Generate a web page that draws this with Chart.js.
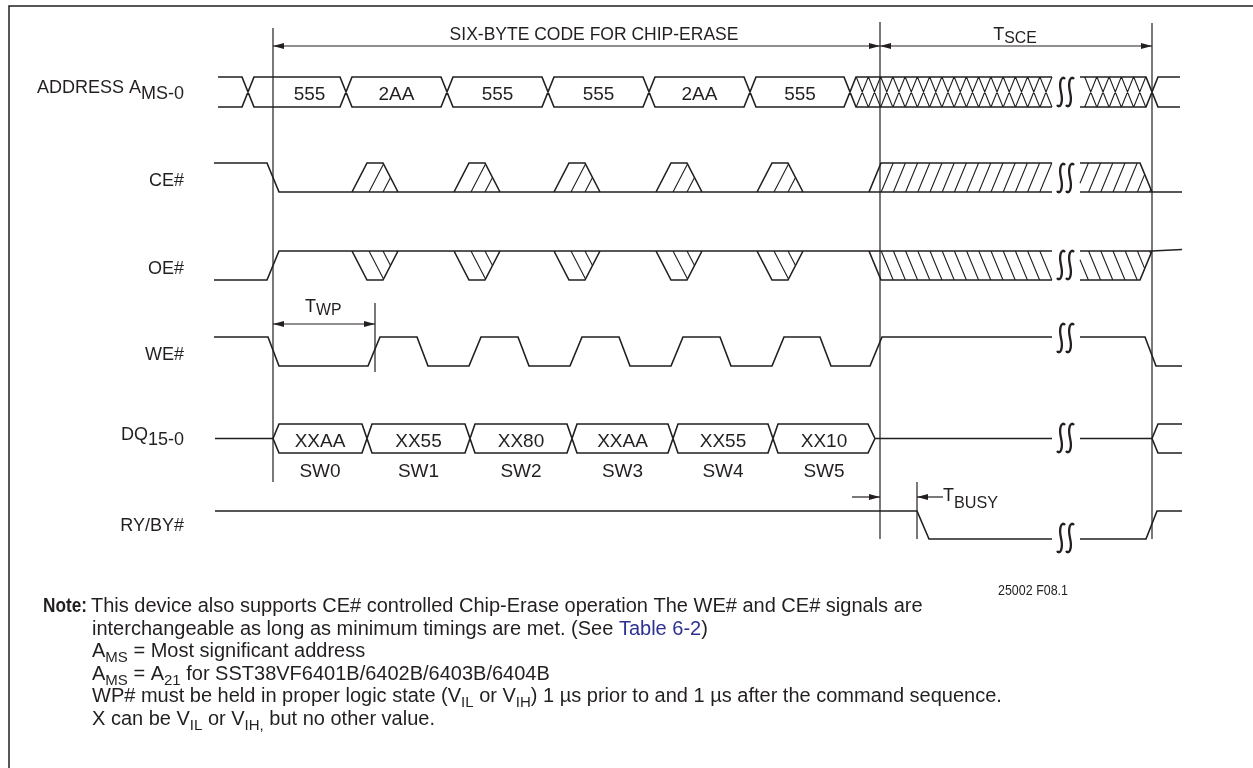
<!DOCTYPE html>
<html lang="en">
<head>
<meta charset="utf-8">
<title>Chip-Erase timing diagram</title>
<script src="https://cdn.jsdelivr.net/npm/chart.js@4"></script>
<style>
  html, body { margin: 0; padding: 0; background: #fff; }
  #wrap { width: 1253px; height: 768px; }
</style>
</head>
<body>
<div id="wrap"><canvas id="myChart"></canvas></div>
<script>
// tiempos clave del diagrama (unidades del eje x)
const tStart = 273;
const tSce = 880;
const tEnd = 1152;
const tBusy = 917;
const tWp = 375;
const breakAt = [1052, 1080];

// bus de direcciones
const addrEdges = [248, 346, 447, 548, 649, 750, 850];
const addrValues = ["555", "2AA", "555", "555", "2AA", "555"];
// pulsos "don't care" de CE# y OE#
const strobeCenters = [375, 477, 577, 679, 780];
// flancos de WE#
const weFalls = [268, 417, 518, 619, 720, 820, 1145];
const weRises = [368, 469, 570, 671, 772, 870];
// bus de datos
const dqEdges = [273, 367, 470, 572, 673, 773, 875];
const dqValues = ["XXAA", "XX55", "XX80", "XXAA", "XX55", "XX10"];
const swLabels = ["SW0", "SW1", "SW2", "SW3", "SW4", "SW5"];
// nombres de las senales [texto, subindice]
const signalNames = [["ADDRESS A", "MS-0"], ["CE#", ""], ["OE#", ""], ["WE#", ""], ["DQ", "15-0"], ["RY/BY#", ""]];

// notas al pie: [texto, tipo]  tipo: "" normal, "s" subindice, "l" enlace
const noteLines = [
  [["This device also supports CE# controlled Chip-Erase operation The WE# and CE# signals are", ""]],
  [["interchangeable as long as minimum timings are met. (See ", ""], ["Table 6-2", "l"], [")", ""]],
  [["A", ""], ["MS", "s"], [" = Most significant address", ""]],
  [["A", ""], ["MS", "s"], [" = A", ""], ["21", "s"], [" for SST38VF6401B/6402B/6403B/6404B", ""]],
  [["WP# must be held in proper logic state (V", ""], ["IL", "s"], [" or V", ""], ["IH", "s"], [") 1 \u00b5s prior to and 1 \u00b5s after the command sequence.", ""]],
  [["X can be V", ""], ["IL", "s"], [" or V", ""], ["IH,", "s"], [" but no other value.", ""]],
];

// ---- estilo / disposicion ----
const ink = "#231f20";
const font = "'Liberation Sans', Arial, Helvetica, sans-serif";
const rowY = [[77, 107], [163, 192], [251, 280], [337, 366], [424, 453], [511, 539]];
const labelBase = [92.5, 186, 274, 360, 440, 531];
const breakRowY = [92, 178, 265, 338, 438, 538];
const xFrom = 214, xTo = 1182;
const [brk0, brk1] = breakAt;

// corta una polilinea en la zona del quiebre (tramos horizontales)
function cut(pts) {
  const out = [];
  pts.forEach(([x, y], i) => {
    if (i > 0) {
      const [px, py] = pts[i - 1];
      if (px < brk0 && x > brk0) {
        out.push({ x: brk0, y: py }, { x: brk0, y: null });
      }
      if (px < brk1 && x > brk1) out.push({ x: brk1, y: py });
    }
    if (x <= brk0 || x >= brk1) out.push({ x, y });
  });
  out.push({ x: 0, y: null });
  return out;
}
const poly = (out, pts) => out.push(...pts.map(([x, y]) => ({ x, y })), { x: 0, y: null });

// recorta una linea de rayado x = b + s*f dentro de un trapecio
function clipLine(b, s, L0, L1, R0, R1) {
  let lo = 0, hi = 1;
  [[b - L0, s - (L1 - L0)], [R0 - b, (R1 - R0) - s]].forEach(([a, k]) => {
    if (Math.abs(k) < 1e-9) { if (a < 0) { lo = 1; hi = 0; } }
    else if (k > 0) lo = Math.max(lo, -a / k);
    else hi = Math.min(hi, -a / k);
  });
  return lo < hi - 0.02 ? [lo, hi] : null;
}
function hatch(out, bs, y0, y1, s, trap) {
  bs.forEach((b) => {
    const r = clipLine(b, s, ...trap);
    if (!r) return;
    poly(out, r.map((f) => [b + s * f, y0 + (y1 - y0) * f]));
  });
}

const addressData = () => {
  const [t, b] = rowY[0], h = 6, out = [];
  [[t, b], [b, t]].forEach(([a, c]) => {
    const pts = [[218, a]];
    let cur = a, oth = c;
    addrEdges.forEach((e) => { pts.push([e - h, cur], [e + h, oth]); [cur, oth] = [oth, cur]; });
    pts.push([tEnd - h, cur], [tEnd + h, oth], [1180, oth]);
    out.push(...cut(pts));
  });
  return out;
};

const dqData = () => {
  const [t, b] = rowY[4], m = (t + b) / 2, h = 5, out = [];
  const last = dqEdges[dqEdges.length - 1];
  [[t, b], [b, t]].forEach(([a, c]) => {
    const pts = [[215, m], [dqEdges[0], m], [dqEdges[0] + 6, a]];
    let cur = a, oth = c;
    dqEdges.slice(1, -1).forEach((e) => { pts.push([e - h, cur], [e + h, oth]); [cur, oth] = [oth, cur]; });
    pts.push([last - 7, cur], [last, m], [tEnd, m], [tEnd + 6, a], [xTo, a]);
    out.push(...cut(pts));
  });
  return out;
};

const ceData = () => {
  const [hi, lo] = rowY[1], out = [];
  out.push(...cut([[xFrom, hi], [tStart - 6, hi], [tStart + 6, lo], [xTo, lo]]));
  out.push(...cut([[tSce - 11, lo], [tSce + 1, hi], [tEnd - 12, hi], [tEnd, lo]]));
  strobeCenters.forEach((c) => poly(out, [[c - 23, lo], [c - 8, hi], [c + 8, hi], [c + 23, lo]]));
  return out;
};

const oeData = () => {
  const [hi, lo] = rowY[2], out = [];
  out.push(...cut([[xFrom, lo], [tStart - 6, lo], [tStart + 6, hi], [tEnd, hi], [xTo, hi - 1.5]]));
  out.push(...cut([[tSce - 11, hi], [tSce + 1, lo], [tEnd - 12, lo], [tEnd, hi]]));
  strobeCenters.forEach((c) => poly(out, [[c - 23, hi], [c - 8, lo], [c + 8, lo], [c + 23, hi]]));
  return out;
};

const weData = () => {
  const [hi, lo] = rowY[3];
  const pts = [[xFrom, hi]];
  weFalls.forEach((f, i) => {
    pts.push([f, hi], [f + 11, lo]);
    if (i < weRises.length) pts.push([weRises[i], lo], [weRises[i] + 12, hi]);
  });
  pts.push([xTo, lo]);
  return cut(pts);
};

const rbData = () => {
  const [hi, lo] = rowY[5];
  return cut([[215, hi], [tBusy, hi], [tBusy + 12, lo], [1146, lo], [1157, hi], [xTo, hi]]);
};

// rayados: X del bus invalido y diagonales de CE#/OE#
const hatchData = () => {
  const out = [];
  const [t, b] = rowY[0], h = 6, p = 12.25;
  const xMark = (c) => { poly(out, [[c - h, t], [c + h, b]]); poly(out, [[c - h, b], [c + h, t]]); };
  for (let c = addrEdges[addrEdges.length - 1] + p; c + h <= brk0 + 0.5; c += p) xMark(c);
  for (let c = tEnd - p; c - h >= brk1 - 1; c -= p) xMark(c);

  const step = 12.2;
  const bs = [];
  for (let v = tSce - 11 + step; v < tEnd; v += step) bs.push(v);
  [[rowY[1][1], rowY[1][0]], [rowY[2][0], rowY[2][1]]].forEach(([y0, y1]) => {
    strobeCenters.forEach((c) => hatch(out, [c - 6, c + 8], y0, y1, 15, [c - 23, c - 8, c + 23, c + 8]));
    hatch(out, bs, y0, y1, 12, [tSce - 11, tSce + 1, brk0, brk0]);
    hatch(out, bs, y0, y1, 12, [brk1, brk1, tEnd, tEnd - 12]);
  });
  return out;
};

// lineas de referencia verticales [x, y desde, y hasta]
const guides = [[tStart, 28, 482], [tSce, 22, 539], [tEnd, 23, 539], [tBusy, 482, 539], [tWp, 303, 372]];
const guideData = () => {
  const out = [];
  guides.forEach(([x, y0, y1]) => poly(out, [[x, y0], [x, y1]]));
  return out;
};

// ---- dibujo de textos ----
function drawRuns(ctx, x, y, parts, size, opt = {}) {
  const subK = opt.sub || 0.78, drop = opt.drop ?? size * 0.3, align = opt.align || "left";
  const fontOf = (k) => `${k === "b" ? "bold " : ""}${k === "s" ? size * subK : size}px ${font}`;
  let w = 0;
  parts.forEach(([t, k]) => { ctx.font = fontOf(k); w += ctx.measureText(t).width; });
  let cx = align === "right" ? x - w : align === "center" ? x - w / 2 : x;
  ctx.textAlign = "left";
  ctx.textBaseline = "alphabetic";
  parts.forEach(([t, k]) => {
    ctx.font = fontOf(k);
    ctx.fillStyle = k === "l" ? "#2e3192" : ink;
    ctx.fillText(t, cx, k === "s" ? y + drop : y);
    cx += ctx.measureText(t).width;
  });
}

function head(ctx, x, y, dir) {
  ctx.beginPath();
  ctx.moveTo(x, y);
  ctx.lineTo(x - dir * 11, y - 3);
  ctx.lineTo(x - dir * 11, y + 3);
  ctx.closePath();
  ctx.fill();
}
function arrowLine(ctx, x1, x2, y, both) {
  ctx.beginPath();
  ctx.moveTo(x1, y);
  ctx.lineTo(x2, y);
  ctx.stroke();
  head(ctx, x2, y, x2 > x1 ? 1 : -1);
  if (both) head(ctx, x1, y, x2 > x1 ? -1 : 1);
}
function squiggle(ctx, x, y) {
  ctx.beginPath();
  ctx.moveTo(x + 4, y - 13);
  ctx.bezierCurveTo(x + 1, y - 17, x - 2.5, y - 11, x, y);
  ctx.bezierCurveTo(x + 2.5, y + 11, x - 1, y + 17, x - 4, y + 13);
  ctx.stroke();
}

const marco = {
  id: "marco",
  beforeDatasetsDraw(chart) {
    const { ctx } = chart;
    ctx.save();
    ctx.strokeStyle = ink;
    ctx.lineWidth = 1.5;
    ctx.beginPath();
    ctx.moveTo(9, 768);
    ctx.lineTo(9, 6);
    ctx.lineTo(1253, 6);
    ctx.stroke();
    ctx.restore();
  },
};

const rotulos = {
  id: "rotulos",
  afterDatasetsDraw(chart) {
    const { ctx, scales: { x, y } } = chart;
    const X = (v) => x.getPixelForValue(v);
    const Y = (v) => y.getPixelForValue(v);
    ctx.save();

    signalNames.forEach(([name, sub], i) => {
      drawRuns(ctx, X(184), Y(labelBase[i]), sub ? [[name, ""], [sub, "s"]] : [[name, ""]], 18, { align: "right", sub: 1, drop: i === 0 ? 6 : 5 });
    });

    addrValues.forEach((v, i) => {
      const c = (Math.max(addrEdges[i], tStart) + addrEdges[i + 1]) / 2;
      drawRuns(ctx, X(c), Y(100), [[v, ""]], 19, { align: "center" });
    });
    dqValues.forEach((v, i) => {
      const c = (dqEdges[i] + dqEdges[i + 1]) / 2;
      drawRuns(ctx, X(c), Y(446.5), [[v, ""]], 19, { align: "center" });
      drawRuns(ctx, X(c), Y(477), [[swLabels[i], ""]], 19, { align: "center" });
    });

    // cotas
    ctx.strokeStyle = ink;
    ctx.fillStyle = ink;
    ctx.lineWidth = 1.2;
    arrowLine(ctx, X(tStart), X(tSce), Y(46), true);
    arrowLine(ctx, X(tSce), X(tEnd), Y(46), true);
    arrowLine(ctx, X(tStart), X(tWp), Y(324), true);
    arrowLine(ctx, X(852), X(tSce), Y(497), false);
    arrowLine(ctx, X(943), X(tBusy), Y(497), false);

    drawRuns(ctx, X(594), Y(40), [["SIX-BYTE CODE FOR CHIP-ERASE", ""]], 17.5, { align: "center" });
    drawRuns(ctx, X(1015), Y(40), [["T", ""], ["SCE", "s"]], 18, { align: "center", sub: 0.88, drop: 3 });
    drawRuns(ctx, X(305), Y(312), [["T", ""], ["WP", "s"]], 18, { sub: 0.88, drop: 3 });
    drawRuns(ctx, X(943), Y(501), [["T", ""], ["BUSY", "s"]], 18, { sub: 0.9, drop: 7 });

    // quiebres de escala
    ctx.lineWidth = 2.3;
    breakRowY.forEach((r) => {
      squiggle(ctx, X(1061), Y(r));
      squiggle(ctx, X(1070), Y(r));
    });

    // notas
    ctx.font = `14.5px ${font}`;
    ctx.fillStyle = ink;
    ctx.fillText("25002 F08.1", X(998), Y(595), 70);
    ctx.font = `bold 20px ${font}`;
    ctx.fillText("Note:", X(43), Y(612), 44);
    noteLines.forEach((parts, i) => {
      drawRuns(ctx, X(i === 0 ? 91 : 92), Y(612 + i * 22.5), parts, 20, { sub: 0.75, drop: 5 });
    });
    ctx.restore();
  },
};

const serie = (label, data, width) => ({
  label, data, showLine: true, borderColor: ink, borderWidth: width,
  pointRadius: 0, pointHoverRadius: 0, tension: 0, spanGaps: false, fill: false,
});

const ctx = document.getElementById("myChart");
const myChart = new Chart(ctx, {
  type: "scatter",
  data: {
    datasets: [
      serie("ADDRESS", addressData(), 1.6),
      serie("CE#", ceData(), 1.6),
      serie("OE#", oeData(), 1.6),
      serie("WE#", weData(), 1.6),
      serie("DQ", dqData(), 1.6),
      serie("RY/BY#", rbData(), 1.6),
      serie("rayado", hatchData(), 1.1),
      serie("referencias", guideData(), 1.2),
    ],
  },
  options: {
    responsive: true,
    maintainAspectRatio: false,
    animation: false,
    events: [],
    layout: { padding: 0 },
    scales: {
      x: { type: "linear", min: 0, max: 1253, display: false },
      y: { type: "linear", min: 0, max: 768, reverse: true, display: false },
    },
    plugins: { legend: { display: false }, tooltip: { enabled: false } },
  },
  plugins: [marco, rotulos],
});
</script>
</body>
</html>
